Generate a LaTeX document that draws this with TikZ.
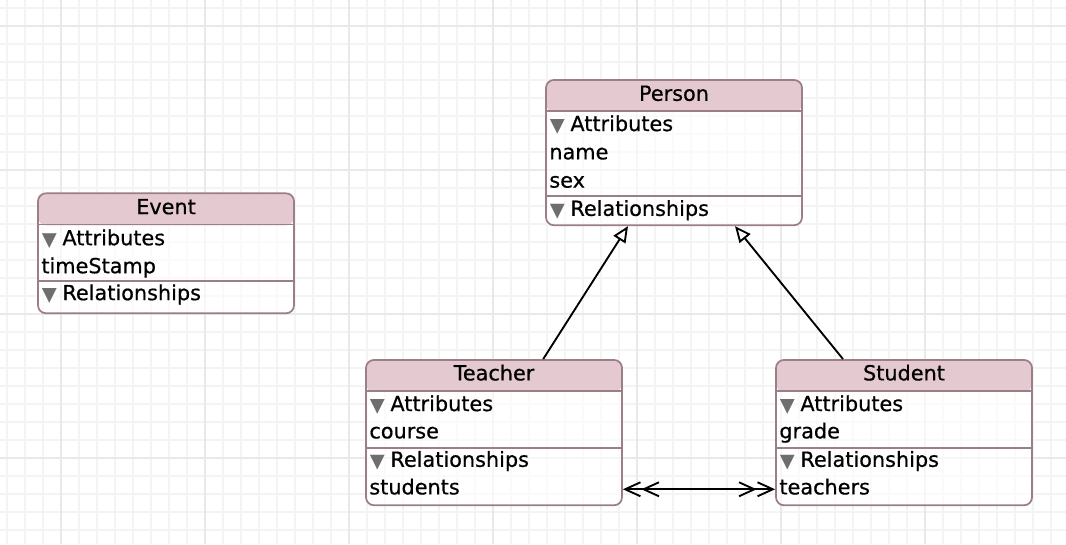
\documentclass[tikz,border=0pt]{standalone}
\usepackage{fontspec}
\setmainfont{DejaVu Sans}[FakeBold=0.6]
\usetikzlibrary{arrows.meta}
\usetikzlibrary{calc}
\definecolor{entline}{HTML}{9A7F87}
\definecolor{headfill}{HTML}{E4C9D0}
\definecolor{trigray}{HTML}{6E6E6E}
\definecolor{gridminor}{HTML}{F4F4F4}
\definecolor{gridmajor}{HTML}{E9E9E9}
\newcommand{\disclosure}{{\color{trigray}\fontsize{14}{14}\selectfont ▼}\hspace{4.5pt}}

\begin{document}
\begin{tikzpicture}[
            x = 0.75pt, y = -0.75pt, % pixel units, y going down
            entity/.style = {
                draw = entline,
                line width = 1.3pt,
                rounded corners = 6pt,
                fill = white, fill opacity = .6,
                minimum width = 192pt,
                inner sep = 0pt,
                path picture = {\fill[headfill, fill opacity = 1]
                    (path picture bounding box.north west) rectangle
                    ([yshift=-24pt]path picture bounding box.north east);}
            },
            title/.style = {anchor = base, inner sep = 0pt, font = \fontsize{15.6}{18}\selectfont},
            row/.style = {anchor = base west, inner sep = 0pt, font = \fontsize{15.6}{18}\selectfont},
            sep/.style = {draw = entline, line width = 1.2pt},
            isa/.style = {-{Triangle[length = 12pt, width = 10.5pt, fill = white]}, line width = 1.4pt},
            rel/.style = {<<->>, >={Straight Barb[length = 11.5pt, width = 10.5pt]}, line width = 1.4pt}
        ]

        \useasboundingbox (0,0) rectangle (1066,544);
        \fill[white] (0,0) rectangle (1066,544);

        % grid
        \foreach \gx in {7,25,...,1066} \draw[gridminor, line width = 1pt] (\gx,0) -- (\gx,544);
        \foreach \gy in {8,26,...,544} \draw[gridminor, line width = 1pt] (0,\gy) -- (1066,\gy);
        \foreach \gx in {61,205,...,1066} \draw[gridmajor, line width = 1pt] (\gx,0) -- (\gx,544);
        \foreach \gy in {26,170,...,544} \draw[gridmajor, line width = 1pt] (0,\gy) -- (1066,\gy);

        % entities
        \node[entity, minimum height = 90pt] (event) at (166,253.3) {};
        \node[entity, minimum height = 109pt] (person) at (674,152.6) {};
        \node[entity, minimum height = 109pt] (teacher) at (494,432.6) {};
        \node[entity, minimum height = 109pt] (student) at (904,432.6) {};

        % Event
        \draw[sep] ([yshift=-24pt]event.north west) -- ([yshift=-24pt]event.north east);
        \draw[sep] ([yshift=-66.5pt]event.north west) -- ([yshift=-66.5pt]event.north east);
        \node[title] (event-t) at ([yshift=-16.3pt]event.north) {Event};
        \node[row] (event-a) at ([xshift=3.5pt, yshift=-39.6pt]event.north west) {\disclosure Attributes};
        \node[row] (event-a1) at ([xshift=3pt, yshift=-60.6pt]event.north west) {timeStamp};
        \node[row] (event-r) at ([xshift=3.5pt, yshift=-80.8pt]event.north west) {\disclosure Relationships};

        % Person
        \draw[sep] ([yshift=-24pt]person.north west) -- ([yshift=-24pt]person.north east);
        \draw[sep] ([yshift=-87.7pt]person.north west) -- ([yshift=-87.7pt]person.north east);
        \node[title] (person-t) at ([yshift=-16.3pt]person.north) {Person};
        \node[row] (person-a) at ([xshift=3.5pt, yshift=-39pt]person.north west) {\disclosure Attributes};
        \node[row] (person-a1) at ([xshift=3pt, yshift=-60.2pt]person.north west) {name};
        \node[row] (person-a2) at ([xshift=3pt, yshift=-81.4pt]person.north west) {sex};
        \node[row] (person-r) at ([xshift=3.5pt, yshift=-102.6pt]person.north west) {\disclosure Relationships};

        % Teacher
        \draw[sep] ([yshift=-24pt]teacher.north west) -- ([yshift=-24pt]teacher.north east);
        \draw[sep] ([yshift=-66.5pt]teacher.north west) -- ([yshift=-66.5pt]teacher.north east);
        \node[title] (teacher-t) at ([yshift=-16pt]teacher.north) {Teacher};
        \node[row] (teacher-a) at ([xshift=3.5pt, yshift=-39pt]teacher.north west) {\disclosure Attributes};
        \node[row] (teacher-a1) at ([xshift=3pt, yshift=-59.5pt]teacher.north west) {course};
        \node[row] (teacher-r) at ([xshift=3.5pt, yshift=-80.8pt]teacher.north west) {\disclosure Relationships};
        \node[row] (teacher-r1) at ([xshift=3pt, yshift=-101.5pt]teacher.north west) {students};

        % Student
        \draw[sep] ([yshift=-24pt]student.north west) -- ([yshift=-24pt]student.north east);
        \draw[sep] ([yshift=-66.5pt]student.north west) -- ([yshift=-66.5pt]student.north east);
        \node[title] (student-t) at ([yshift=-16pt]student.north) {Student};
        \node[row] (student-a) at ([xshift=3.5pt, yshift=-39pt]student.north west) {\disclosure Attributes};
        \node[row] (student-a1) at ([xshift=3pt, yshift=-59.5pt]student.north west) {grade};
        \node[row] (student-r) at ([xshift=3.5pt, yshift=-80.8pt]student.north west) {\disclosure Relationships};
        \node[row] (student-r1) at ([xshift=3pt, yshift=-101.5pt]student.north west) {teachers};

        % inheritance and relationship
        \draw[isa] ([xshift=36.9pt]teacher.north) -- ([xshift=-34.5pt]person.south);
        \draw[isa] ([xshift=-45.75pt]student.north) -- ([xshift=45.75pt]person.south);
        \draw[rel] ([yshift=-42.5pt]teacher.east) -- ([yshift=-42.5pt]student.west);

\end{tikzpicture}
\end{document}
